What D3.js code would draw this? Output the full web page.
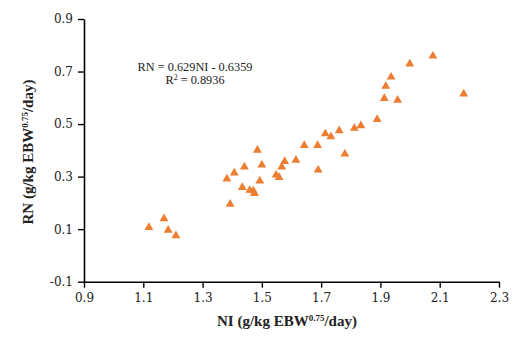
<!DOCTYPE html>
<html>
<head>
<meta charset="utf-8">
<script src="https://cdn.jsdelivr.net/npm/d3@7"></script>
<style>
  html, body { margin: 0; padding: 0; background: #fff; }
  svg { display: block; }
  .tick text { font-family: "DejaVu Serif", "Liberation Serif", serif; font-size: 12px; fill: #222; }
</style>
</head>
<body>
<svg id="chart" width="531" height="345"></svg>
<script>
// Nitrogen intake (NI) vs retained nitrogen (RN), g/kg EBW^0.75/day
const niValues = [1.119, 1.170, 1.184, 1.210, 1.393, 1.382, 1.407, 1.441, 1.485, 1.500,
                  1.434, 1.459, 1.471, 1.475, 1.493, 1.548, 1.558, 1.567, 1.577, 1.615,
                  1.690, 1.643, 1.688, 1.714, 1.733, 1.761, 1.780, 1.812, 1.834, 1.889,
                  1.913, 1.958, 1.918, 1.936, 1.999, 2.077, 2.181];
const rnValues = [0.107, 0.140, 0.096, 0.075, 0.195, 0.291, 0.314, 0.337, 0.401, 0.344,
                  0.259, 0.248, 0.246, 0.236, 0.284, 0.306, 0.297, 0.337, 0.358, 0.363,
                  0.325, 0.419, 0.419, 0.463, 0.452, 0.475, 0.386, 0.484, 0.494, 0.518,
                  0.598, 0.591, 0.644, 0.679, 0.729, 0.759, 0.615];
const xTicks = [0.9, 1.1, 1.3, 1.5, 1.7, 1.9, 2.1, 2.3];
const yTicks = [-0.1, 0.1, 0.3, 0.5, 0.7, 0.9];
const equationLines = ["RN = 0.629NI - 0.6359", "R2 = 0.8936"];

const svg = d3.select("#chart");
const x = d3.scaleLinear().domain([0.9, 2.3]).range([84, 499]);
const y = d3.scaleLinear().domain([-0.1, 0.9]).range([281.7, 19]);

const fmt = d => d.toFixed(1);

// x axis
const gx = svg.append("g")
  .attr("transform", `translate(0,${y(-0.1)})`)
  .call(d3.axisBottom(x).tickValues(xTicks).tickFormat(fmt).tickSize(6).tickSizeOuter(0));
gx.select(".domain").attr("stroke", "#000").attr("stroke-width", 1.6);
gx.selectAll(".tick line").attr("stroke", "#000").attr("stroke-width", 1.4);
gx.selectAll(".tick text").attr("dy", "0.95em");

// y axis
const gy = svg.append("g")
  .attr("transform", `translate(${x(0.9)},0)`)
  .call(d3.axisLeft(y).tickValues(yTicks).tickFormat(fmt).tickSize(6).tickSizeOuter(0));
gy.select(".domain").attr("stroke", "#000").attr("stroke-width", 1.6);
gy.selectAll(".tick line").attr("stroke", "#000").attr("stroke-width", 1.4);
gy.selectAll(".tick text").attr("x", -11);

// data points as triangles
const tri = d3.symbol().type(d3.symbolTriangle).size(34);
svg.append("g").selectAll("path")
  .data(niValues.map((v, i) => [v, rnValues[i]]))
  .join("path")
  .attr("d", tri)
  .attr("transform", d => `translate(${x(d[0])},${y(d[1])})`)
  .attr("fill", "#ED7D31");

// regression equation
const eq = svg.append("g")
  .attr("font-family", "Liberation Serif, serif")
  .attr("font-size", 12.3)
  .attr("fill", "#222")
  .attr("text-anchor", "middle");
eq.append("text").attr("x", 195).attr("y", 71).text(equationLines[0]);
const r2 = eq.append("text").attr("x", 195).attr("y", 84);
r2.append("tspan").text("R");
r2.append("tspan").attr("font-size", 8).attr("dy", -4).text("2");
r2.append("tspan").attr("dy", 4).text(" = 0.8936");

// axis titles
function title(sel, lead) {
  sel.attr("font-family", "Liberation Serif, serif")
    .attr("font-weight", "bold")
    .attr("font-size", 15)
    .attr("fill", "#222")
    .attr("text-anchor", "middle");
  sel.append("tspan").text(lead + " (g/kg EBW");
  sel.append("tspan").attr("font-size", 9).attr("dy", -5.5).text("0.75");
  sel.append("tspan").attr("dy", 5.5).text("/day)");
}
title(svg.append("text").attr("x", 287).attr("y", 326), "NI");
title(svg.append("text").attr("transform", "translate(33,152) rotate(-90)"), "RN");
</script>
</body>
</html>
